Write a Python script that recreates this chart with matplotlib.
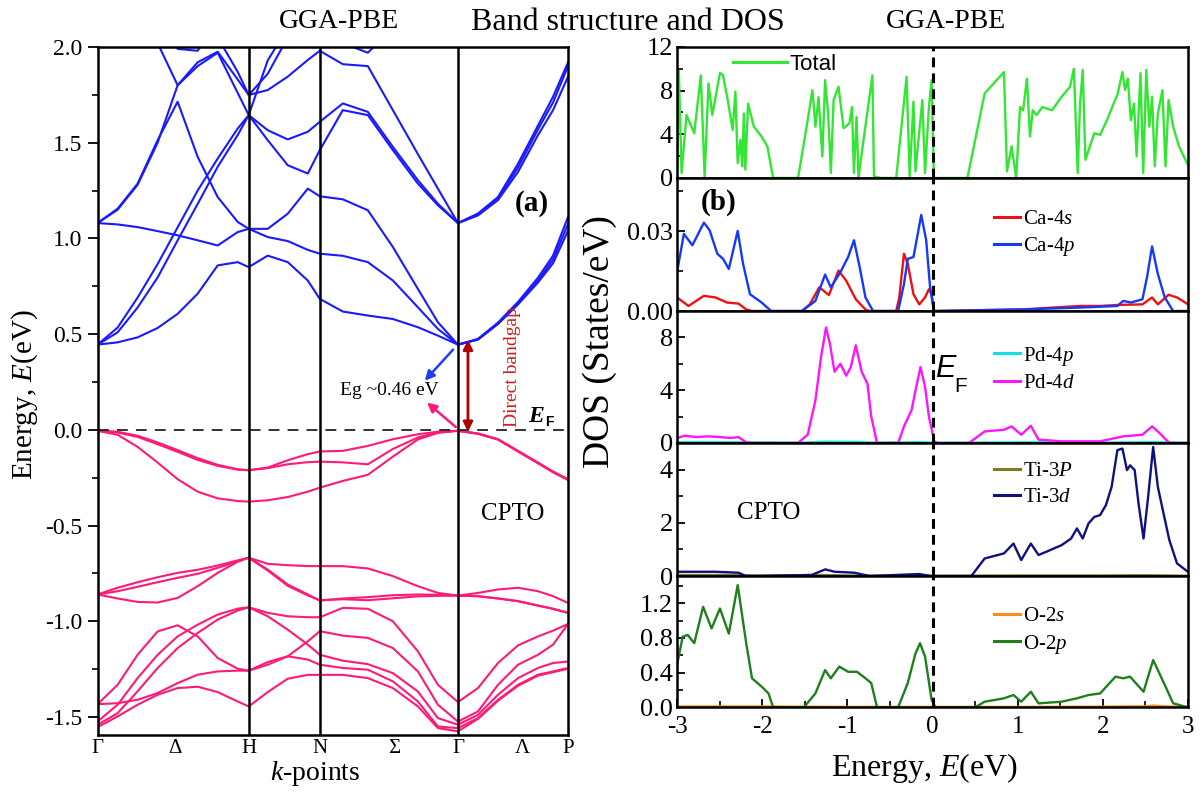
import matplotlib
matplotlib.use('Agg')
import matplotlib.pyplot as plt
from matplotlib.ticker import FixedLocator, FormatStrFormatter
from matplotlib.lines import Line2D

plt.rcParams['font.family'] = 'Liberation Serif'
plt.rcParams['mathtext.fontset'] = 'custom'
plt.rcParams['mathtext.rm'] = 'Liberation Serif'
plt.rcParams['mathtext.it'] = 'Liberation Serif:italic'
plt.rcParams['mathtext.bf'] = 'Liberation Serif:bold'
plt.rcParams['axes.unicode_minus'] = False

# ---------------- band structure (a) ----------------
# distance along the path G-H-N-G-P
kpath = [0, 20, 40, 60, 80, 100, 120, 140, 151, 170, 190, 210, 222,
         245, 270, 295, 320, 340, 360, 380, 400, 420, 440, 455, 470]
kticks = [0, 77, 151, 222, 296, 360, 424, 470]
klabels = ['Γ', 'Δ', 'H', 'N', 'Σ', 'Γ', 'Λ', 'P']
kvlines = [151, 222, 360]

# conduction bands (eV)
c1 = [0.445, 0.457, 0.483, 0.532, 0.606, 0.711, 0.859, 0.876, 0.85, 0.91, 0.876, 0.78, 0.684,
      0.618, 0.597, 0.579, 0.536, 0.492, 0.445, 0.471, 0.553, 0.655, 0.77, 0.87, 1.04]
c2 = [1.08, 1.073, 1.059, 1.038, 1.016, 0.99, 0.963, 1.033, 1.05, 1.007, 0.986, 0.94, 0.92,
      0.909, 0.876, 0.78, 0.64, 0.527, 0.445, 0.475, 0.56, 0.668, 0.795, 0.91, 1.112]
c3 = [0.445, 0.534, 0.691, 0.866, 1.058, 1.25, 1.417, 1.574, 1.644, 1.565, 1.517, 1.557, 1.609,
      1.705, 1.661, 1.478, 1.304, 1.181, 1.08, 1.13, 1.216, 1.39, 1.59, 1.74, 1.92]
c4 = [1.08, 1.155, 1.286, 1.513, 1.714, 1.426, 1.216, 1.086, 1.05, 1.05, 1.129, 1.26, 1.22,
      1.204, 1.147, 0.955, 0.736, 0.562, 0.445, 0.473, 0.556, 0.66, 0.78, 0.89, 1.075]
c5 = [0.445, 0.509, 0.639, 0.796, 0.99, 1.18, 1.374, 1.54, 1.644, 1.513, 1.382, 1.339, 1.461,
      1.67, 1.644, 1.461, 1.286, 1.173, 1.08, 1.12, 1.2, 1.347, 1.54, 1.67, 1.845]
c6 = [1.08, 1.15, 1.28, 1.50, 1.80, 1.92, 1.975, 1.83, 1.749, 1.775, 1.845, 1.932, 1.98,
      1.91, 1.9, 1.67, 1.44, 1.26, 1.08, 1.125, 1.21, 1.37, 1.57, 1.71, 1.9]
c7 = [2.9, 2.6, 2.3, 2.02, 1.80, 1.90, 1.97, 1.76, 1.644, 1.93, 2.1, 2.25, 2.3,
      2.02, 1.97, 2.1, 2.4, 2.6, 2.8, 2.9, 3.0, 3.0, 3.0, 3.0, 3.0]
c8 = [3.0, 2.9, 2.8, 2.6, 2.4, 2.2, 2.05, 1.87, 1.749, 1.86, 2.05, 2.2, 2.3,
      2.3, 2.3, 2.4, 2.6, 2.8, 3.0, 3.0, 3.0, 3.0, 3.0, 3.0, 3.0]
c9 = [2.6, 2.45, 2.3, 2.15, 1.99, 1.98, 2.15, 2.3, 2.4, 2.5, 2.6, 2.7, 2.8,
      2.5, 2.2, 2.4, 2.6, 2.8, 3.0, 3.0, 3.0, 3.0, 3.0, 3.0, 3.0]
cond_bands = [c1, c2, c3, c4, c5, c6, c7, c8, c9]

# valence bands (eV)
vA = [-0.005, -0.01, -0.031, -0.066, -0.106, -0.148, -0.183, -0.206, -0.211, -0.197, -0.159, -0.127, -0.113,
      -0.11, -0.084, -0.049, -0.023, -0.01, -0.005, -0.019, -0.049, -0.11, -0.171, -0.218, -0.258]
vB = [-0.005, -0.014, -0.037, -0.075, -0.115, -0.157, -0.188, -0.208, -0.211, -0.2, -0.18, -0.169, -0.166,
      -0.17, -0.18, -0.1, -0.04, -0.013, -0.005, -0.02, -0.05, -0.112, -0.173, -0.22, -0.26]
vC = [-0.005, -0.026, -0.089, -0.171, -0.258, -0.323, -0.358, -0.372, -0.375, -0.368, -0.351, -0.323, -0.302,
      -0.267, -0.235, -0.14, -0.05, -0.016, -0.005, -0.021, -0.051, -0.113, -0.175, -0.222, -0.262]
vD = [-0.86, -0.825, -0.796, -0.77, -0.747, -0.731, -0.709, -0.682, -0.668, -0.70, -0.707, -0.712, -0.712,
      -0.712, -0.724, -0.764, -0.817, -0.852, -0.866, -0.852, -0.834, -0.825, -0.843, -0.869, -0.904]
vE = [-0.86, -0.843, -0.82, -0.796, -0.773, -0.752, -0.721, -0.686, -0.668, -0.73, -0.808, -0.86, -0.892,
      -0.881, -0.874, -0.864, -0.86, -0.862, -0.866, -0.869, -0.881, -0.895, -0.918, -0.935, -0.956]
vF = [-0.86, -0.881, -0.899, -0.902, -0.878, -0.817, -0.747, -0.689, -0.668, -0.735, -0.815, -0.865, -0.89,
      -0.885, -0.89, -0.88, -0.87, -0.867, -0.866, -0.869, -0.881, -0.895, -0.918, -0.935, -0.956]
vG = [-1.433, -1.428, -1.41, -1.375, -1.323, -1.279, -1.262, -1.258, -1.258, -1.213, -1.183, -1.2, -1.227,
      -1.244, -1.253, -1.314, -1.419, -1.55, -1.558, -1.506, -1.41, -1.332, -1.279, -1.262, -1.244]
vH = [-1.553, -1.497, -1.436, -1.384, -1.349, -1.342, -1.37, -1.419, -1.445, -1.37, -1.3, -1.28, -1.28,
      -1.28, -1.297, -1.349, -1.445, -1.558, -1.575, -1.51, -1.415, -1.337, -1.284, -1.266, -1.248]
vI = [-1.433, -1.332, -1.175, -1.053, -1.021, -1.079, -1.192, -1.248, -1.258, -1.227, -1.183, -1.105, -1.052,
      -1.075, -1.087, -1.14, -1.262, -1.436, -1.524, -1.471, -1.332, -1.227, -1.175, -1.122, -1.014]
vJ = [-1.524, -1.436, -1.297, -1.175, -1.079, -1.018, -0.965, -0.934, -0.927, -0.956, -0.974, -0.979, -0.979,
      -0.93, -0.935, -1.0, -1.157, -1.332, -1.422, -1.349, -1.218, -1.126, -1.079, -1.049, -1.014]
vK = [-1.541, -1.48, -1.366, -1.244, -1.14, -1.061, -0.991, -0.944, -0.927, -0.974, -1.044, -1.122, -1.175,
      -1.206, -1.224, -1.271, -1.367, -1.506, -1.54, -1.489, -1.384, -1.297, -1.244, -1.218, -1.21]
val_bands = [vA, vB, vC, vD, vE, vF, vG, vH, vI, vJ, vK]

# ---------------- DOS (b) ----------------
tot_e = [-3.0, -2.979, -2.947, -2.889, -2.798, -2.721, -2.676, -2.631, -2.586, -2.496, -2.46, -2.405, -2.347,
         -2.315, -2.288, -2.256, -2.234, -2.216, -2.198, -2.166, -2.098, -2.008, -1.94, -1.872, -1.579, -1.466,
         -1.411, -1.375, -1.339, -1.294, -1.262, -1.226, -1.194, -1.162, -1.104, -1.045, -0.977, -0.946, -0.923,
         -0.892, -0.87, -0.81, -0.706, -0.688, -0.607, -0.427, -0.305, -0.269, -0.224, -0.201, -0.12, -0.088,
         -0.043, -0.011, 0.016, 0.409, 0.612, 0.838, 0.874, 0.928, 0.982, 1.027, 1.063, 1.108, 1.144, 1.176,
         1.221, 1.289, 1.402, 1.515, 1.614, 1.659, 1.704, 1.731, 1.763, 1.795, 1.899, 1.967, 2.048, 2.125,
         2.17, 2.229, 2.26, 2.292, 2.328, 2.365, 2.396, 2.441, 2.473, 2.509, 2.545, 2.577, 2.609, 2.645,
         2.699, 2.735, 2.771, 2.825, 2.893, 2.997]
tot_v = [0.61, 9.8, 0.46, 5.77, 4.1, 9.4, 0.15, 8.66, 5.77, 9.63, 9.4, 7.14, 4.4, 7.9, 1.37, 3.5, 1.06, 5.9,
         0.76, 6.8, 4.7, 3.8, 2.9, 0, 0, 5.3, 8.05, 4.7, 7.4, 1.97, 8.96, 5.9, 0.46, 7.14, 8.35, 4.56, 5.0,
         6.5, 0.46, 5.6, 0, 3.5, 9.4, 0.15, 0, 0, 9.27, 0.15, 7.0, 0.6, 7.14, 0.46, 6.5, 8.96, 0, 0, 7.75,
         9.7, 0.6, 2.9, 0, 6.5, 6.2, 9.1, 3.8, 6.2, 5.77, 6.5, 6.2, 7.44, 8.35, 10.0, 0.46, 6.7, 9.9, 1.67,
         4.1, 3.95, 5.3, 6.8, 7.6, 9.7, 8.05, 9.1, 5.3, 6.8, 1.97, 9.6, 0.46, 9.9, 4.7, 7.44, 1.06, 5.9,
         8.05, 1.06, 7.14, 4.7, 2.9, 1.2]

ca4s_e = [-3.0, -2.865, -2.685, -2.55, -2.414, -2.279, -2.188, -2.12, -1.534, -1.443, -1.33, -1.217, -1.104,
          -1.014, -0.901, -0.788, -0.743, -0.427, -0.391, -0.336, -0.291, -0.224, -0.156, -0.088, -0.043,
          -0.011, 0.02, 1.063, 1.515, 1.74, 1.967, 2.192, 2.464, 2.577, 2.645, 2.771, 2.87, 3.0]
ca4s_v = [0.0051, 0.0019, 0.0057, 0.0051, 0.0032, 0.0028, 0.0006, 0, 0, 0.0025, 0.0089, 0.006, 0.0152,
          0.0114, 0.0044, 0.0006, 0, 0, 0.0051, 0.0215, 0.0177, 0.0063, 0.0025, 0.0051, 0.0082, 0.0063, 0,
          0.0006, 0.0015, 0.0019, 0.0019, 0.0023, 0.0025, 0.0051, 0.0025, 0.0061, 0.0051, 0.0025]
ca4p_e = [-3.0, -2.92, -2.82, -2.685, -2.618, -2.527, -2.46, -2.392, -2.288, -2.225, -2.143, -2.008, -1.895,
          -1.534, -1.376, -1.262, -1.195, -1.082, -0.991, -0.923, -0.856, -0.788, -0.698, -0.404, -0.336,
          -0.291, -0.224, -0.133, -0.075, -0.029, 0.016, 1.063, 1.74, 2.17, 2.238, 2.328, 2.464, 2.518,
          2.577, 2.645, 2.726, 2.825, 3.0]
ca4p_v = [0.0146, 0.029, 0.0247, 0.0332, 0.0304, 0.0215, 0.0196, 0.0158, 0.0301, 0.0177, 0.0063, 0.0032, 0,
          0, 0.0038, 0.0137, 0.0089, 0.0146, 0.0203, 0.0266, 0.0165, 0.0051, 0, 0, 0.0101, 0.0196, 0.0203,
          0.0361, 0.0266, 0.0089, 0, 0.0006, 0.0013, 0.0019, 0.0038, 0.0032, 0.0044, 0.0127, 0.0243, 0.0139,
          0.0051, 0, 0]

pd4p_e = [-3.0, -2.2, -1.5, -1.25, -0.9, -0.7, -0.15, 0.0, 0.6, 1.2, 2.0, 2.6, 3.0]
pd4p_v = [0.06, 0.05, 0.03, 0.1, 0.08, 0.03, 0.06, 0.02, 0.04, 0.05, 0.03, 0.06, 0.03]
pd4d_e = [-3.0, -2.91, -2.776, -2.64, -2.505, -2.37, -2.279, -2.188, -2.098, -1.579, -1.466, -1.375, -1.31,
          -1.251, -1.205, -1.151, -1.082, -1.014, -0.96, -0.901, -0.833, -0.765, -0.72, -0.652, -0.404,
          -0.336, -0.246, -0.192, -0.142, -0.088, -0.043, 0.02, 0.065, 0.427, 0.612, 0.838, 0.928, 1.041,
          1.154, 1.244, 1.515, 1.967, 2.238, 2.464, 2.577, 2.645, 2.78, 3.0]
pd4d_v = [0.375, 0.55, 0.45, 0.5, 0.45, 0.375, 0.45, 0.05, 0, 0, 0.625, 3.25, 6.5, 8.75, 7.5, 5.4, 6.0, 5.1,
          5.75, 7.4, 5.4, 4.5, 2.0, 0, 0, 1.25, 2.5, 4.25, 5.75, 4.25, 2.0, 0.125, 0, 0, 0.875, 1.0, 1.25,
          0.625, 1.3, 0.25, 0.125, 0.125, 0.5, 0.625, 1.25, 0.875, 0, 0]

ti3p_e = [-3.0, -2.3, -2.0, -1.3, -1.0, 0.0, 1.0, 2.0, 2.5, 3.0]
ti3p_v = [0.04, 0.04, 0.01, 0.04, 0.02, 0.01, 0.02, 0.02, 0.03, 0.01]
ti3d_e = [-3.0, -2.55, -2.28, -2.19, -1.42, -1.26, -1.15, -0.92, -0.74, -0.156, -0.02, 0.455, 0.612, 0.838,
          0.95, 1.041, 1.154, 1.244, 1.334, 1.515, 1.627, 1.695, 1.763, 1.831, 1.899, 1.967, 2.035, 2.102,
          2.17, 2.229, 2.283, 2.319, 2.373, 2.418, 2.477, 2.531, 2.59, 2.645, 2.712, 2.78, 2.87, 2.997]
ti3d_v = [0.16, 0.16, 0.125, 0, 0.04, 0.25, 0.16, 0.125, 0, 0.075, 0, 0, 0.66, 0.85, 1.22, 0.6, 1.22, 0.79,
          0.91, 1.16, 1.41, 1.79, 1.41, 1.975, 2.22, 2.29, 2.66, 3.35, 4.73, 4.79, 3.98, 4.16, 3.98, 2.73,
          1.41, 2.98, 4.85, 3.35, 2.35, 1.35, 0.475, 0.16]

o2s_e = [-3.0, -2.0, -1.0, 0.0, 1.0, 2.0, 2.5, 2.6, 2.7, 3.0]
o2s_v = [0.01, 0.01, 0.005, 0.005, 0.005, 0.008, 0.012, 0.02, 0.012, 0.005]
o2p_e = [-3.0, -2.934, -2.875, -2.798, -2.694, -2.595, -2.496, -2.392, -2.288, -2.188, -2.12, -2.008, -1.926,
         -1.872, -1.511, -1.376, -1.262, -1.195, -1.095, -0.991, -0.887, -0.788, -0.72, -0.652, -0.404,
         -0.291, -0.201, -0.147, -0.088, -0.011, 0.034, 0.499, 0.612, 0.838, 0.95, 1.041, 1.154, 1.244,
         1.515, 1.695, 1.831, 1.967, 2.148, 2.238, 2.319, 2.477, 2.59, 2.735, 2.825, 2.997]
o2p_v = [0.49, 0.815, 0.835, 0.74, 1.16, 0.91, 1.14, 0.85, 1.41, 0.74, 0.335, 0.24, 0.16, 0, 0, 0.16, 0.43,
         0.335, 0.47, 0.41, 0.41, 0.335, 0.28, 0, 0, 0.28, 0.62, 0.74, 0.585, 0.085, 0, 0, 0.065, 0.104,
         0.142, 0.065, 0.18, 0.046, 0.065, 0.104, 0.142, 0.16, 0.354, 0.335, 0.354, 0.18, 0.546, 0.24,
         0.046, 0]

BLUE = '#1a1aff'
PINK = '#ff1a78'

fig = plt.figure(figsize=(12.03, 7.92), dpi=100)

# ---------------- panel (a) ----------------
axb = fig.add_axes([0.0811, 0.072, 0.3911, 0.8687])
for b in cond_bands:
    axb.plot(kpath, b, color=BLUE, lw=1.5)
for b in val_bands:
    axb.plot(kpath, b, color=PINK, lw=1.5)
for kv in kvlines:
    axb.axvline(kv, color='k', lw=1.8)
axb.axhline(0, color='#222222', lw=1.3, ls=(0, (6, 4.5)))
axb.set_xlim(0, 470)
axb.set_ylim(-1.594, 2.0)
axb.set_xticks(kticks)
axb.set_xticklabels(klabels, fontsize=15)
axb.tick_params(axis='x', length=0, pad=3)
axb.yaxis.set_major_locator(FixedLocator([-1.5, -1.0, -0.5, 0.0, 0.5, 1.0, 1.5, 2.0]))
axb.yaxis.set_minor_locator(FixedLocator([-1.25, -0.75, -0.25, 0.25, 0.75, 1.25, 1.75]))
axb.yaxis.set_major_formatter(FormatStrFormatter('%.1f'))
axb.tick_params(axis='y', which='major', direction='out', length=7, width=1.3, labelsize=17, pad=4)
axb.tick_params(axis='y', which='minor', direction='out', length=4, width=1.2)
for s in axb.spines.values():
    s.set_linewidth(1.8)

axb.annotate('', xy=(325, 0.246), xytext=(357, 0.43),
             arrowprops=dict(arrowstyle='-|>', color='#1f3cff', lw=1.8, mutation_scale=14))
axb.annotate('', xy=(327, 0.152), xytext=(360, 0.005),
             arrowprops=dict(arrowstyle='-|>', color=PINK, lw=1.8, mutation_scale=14))
axb.annotate('', xy=(370, 0.47), xytext=(370, -0.01),
             arrowprops=dict(arrowstyle='<|-|>', color='#b00000', lw=2.0, mutation_scale=14,
                             shrinkA=0, shrinkB=0))
axb.text(292, 0.204, 'Eg ~0.46 eV', fontsize=14, ha='center', va='center')
axb.text(415, 0.33, 'Direct bandgap', fontsize=14, color='#d01c1c', rotation=90,
         ha='center', va='center')
axb.text(438, 0.07, 'E', fontsize=17, fontweight='bold', fontstyle='italic', ha='center', va='center')
axb.text(451, 0.04, 'F', fontsize=10, fontweight='bold', family='Liberation Sans',
         ha='center', va='center')
axb.text(434, 1.18, '(a)', fontsize=21, fontweight='bold', ha='center', va='center')
axb.text(415, -0.44, 'CPTO', fontsize=18, ha='center', va='center')

# ---------------- panel (b) ----------------
rows = [(0.7753, 0.1654), (0.6073, 0.1680), (0.4407, 0.1666), (0.2727, 0.1680), (0.1069, 0.1658)]
axs = [fig.add_axes([0.5628, b, 0.4248, h]) for b, h in rows]

curves = [
    [(tot_e, tot_v, '#33e633', 'Total')],
    [(ca4s_e, ca4s_v, '#ee1111', 'Ca-4$s$'), (ca4p_e, ca4p_v, '#1438ff', 'Ca-4$p$')],
    [(pd4p_e, pd4p_v, '#14e0e0', 'Pd-4$p$'), (pd4d_e, pd4d_v, '#ff14ff', 'Pd-4$d$')],
    [(ti3p_e, ti3p_v, '#7f7a20', 'Ti-3$P$'), (ti3d_e, ti3d_v, '#10107f', 'Ti-3$d$')],
    [(o2s_e, o2s_v, '#ff8c1a', 'O-2$s$'), (o2p_e, o2p_v, '#1f7f1f', 'O-2$p$')],
]
ylims = [12, 0.05, 10, 5, 1.515]
majors = [[0, 4, 8, 12], [0, 0.03], [0, 4, 8], [0, 2, 4], [0, 0.4, 0.8, 1.2]]
minors = [[2, 6, 10], [0.015, 0.045], [2, 6], [1, 3], [0.2, 0.6, 1.0, 1.4]]
fmts = ['%d', '%.2f', '%d', '%d', '%.1f']
leg_pos = [(0.11, 0.95), (0.62, 0.762), (0.62, 0.746), (0.62, 0.861), (0.62, 0.766)]

for i, ax in enumerate(axs):
    handles = []
    for e, v, col, lab in curves[i]:
        ax.plot(e, v, color=col, lw=1.7)
        handles.append(Line2D([], [], color=col, lw=2.2, label=lab))
    ax.axvline(0, color='k', lw=2.2, ls=(0, (3.2, 2.0)))
    ax.set_xlim(-3, 3)
    ax.set_ylim(0, ylims[i])
    ax.yaxis.set_major_locator(FixedLocator(majors[i]))
    ax.yaxis.set_minor_locator(FixedLocator(minors[i]))
    ax.yaxis.set_major_formatter(FormatStrFormatter(fmts[i]))
    ax.tick_params(axis='y', which='major', direction='in', length=6, width=1.3, labelsize=19, pad=3)
    ax.tick_params(axis='y', which='minor', direction='in', length=4, width=1.2)
    for s in ax.spines.values():
        s.set_linewidth(1.8)
    if i == 0:
        prop = {'family': 'Liberation Sans', 'size': 16}
        hl = 2.4
    else:
        prop = {'size': 15}
        hl = 1.25
    ax.legend(handles=handles, loc='upper left', bbox_to_anchor=leg_pos[i], frameon=False,
              prop=prop, handlelength=hl, handletextpad=0.15, borderpad=0, borderaxespad=0,
              labelspacing=0.3)
    if i < 4:
        ax.tick_params(axis='x', which='both', length=0, labelbottom=False)

axs[-1].xaxis.set_major_locator(FixedLocator([-3, -2, -1, 0, 1, 2, 3]))
axs[-1].xaxis.set_minor_locator(FixedLocator([-2.5, -1.5, -0.5, 0.5, 1.5, 2.5]))
axs[-1].tick_params(axis='x', which='major', direction='in', length=6, width=1.3, labelsize=18, pad=6)
axs[-1].tick_params(axis='x', which='minor', direction='in', length=4, width=1.2)

axs[1].text(0.082, 0.82, '(b)', transform=axs[1].transAxes, fontsize=21, fontweight='bold',
            ha='center', va='center')
axs[2].text(0.525, 0.56, 'E', transform=axs[2].transAxes, fontsize=22, fontstyle='italic',
            family='Liberation Sans', ha='center', va='center')
axs[2].text(0.555, 0.43, 'F', transform=axs[2].transAxes, fontsize=15,
            family='Liberation Sans', ha='center', va='center')
axs[3].text(0.18, 0.474, 'CPTO', transform=axs[3].transAxes, fontsize=18, ha='center', va='center')

# ---------------- labels and titles ----------------
fig.text(25 / 1203, 1 - 395 / 792, 'Energy, $E$(eV)', rotation=90, fontsize=21, ha='center', va='center')
fig.text(315 / 1203, 1 - 773 / 792, '$k$-points', fontsize=20, ha='center', va='center')
fig.text(600 / 1203, 1 - 342 / 792, 'DOS (States/eV)', rotation=90, fontsize=27, ha='center', va='center')
fig.text(925 / 1203, 1 - 768 / 792, 'Energy, $E$(eV)', fontsize=23, ha='center', va='center')
fig.text(339 / 1203, 1 - 22 / 792, 'GGA-PBE', fontsize=20, ha='center', va='center')
fig.text(628 / 1203, 1 - 22 / 792, 'Band structure and DOS', fontsize=23, ha='center', va='center')
fig.text(946 / 1203, 1 - 22 / 792, 'GGA-PBE', fontsize=20, ha='center', va='center')

fig.savefig('out.png', dpi=100)
